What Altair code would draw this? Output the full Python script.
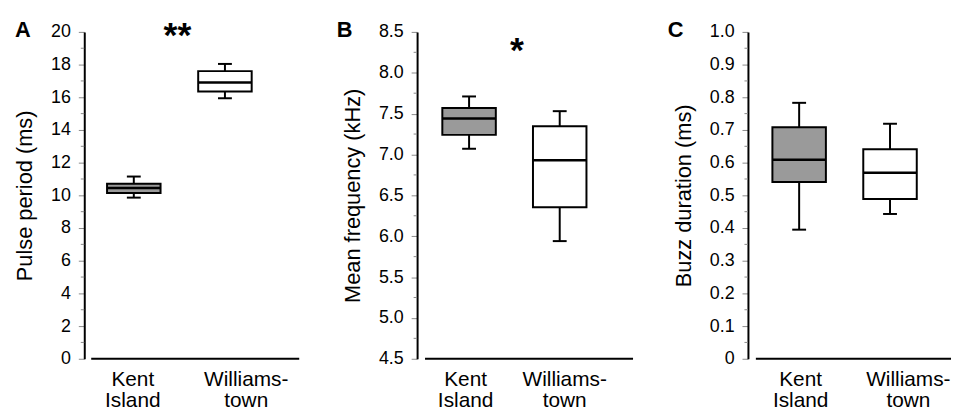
import altair as alt
import pandas as pd

sites = ["Kent Island", "Williamstown"]
fills = ["#9a9a9a", "#ffffff"]

# Panel A: pulse period (ms)
pulse_lo = [9.86, 15.94]
pulse_q1 = [10.15, 16.35]
pulse_med = [10.45, 16.90]
pulse_q3 = [10.71, 17.60]
pulse_hi = [11.15, 18.04]
pulse_major = [0, 2, 4, 6, 8, 10, 12, 14, 16, 18, 20]
pulse_minor = [1, 3, 5, 7, 9, 11, 13, 15, 17, 19]

# Panel B: mean frequency (kHz)
freq_lo = [7.07, 5.94]
freq_q1 = [7.24, 6.355]
freq_med = [7.44, 6.93]
freq_q3 = [7.57, 7.345]
freq_hi = [7.71, 7.53]
freq_major = [4.5, 5.0, 5.5, 6.0, 6.5, 7.0, 7.5, 8.0, 8.5]
freq_minor = [4.75, 5.25, 5.75, 6.25, 6.75, 7.25, 7.75, 8.25]

# Panel C: buzz duration (ms)
buzz_lo = [0.395, 0.443]
buzz_q1 = [0.541, 0.489]
buzz_med = [0.609, 0.569]
buzz_q3 = [0.708, 0.641]
buzz_hi = [0.783, 0.719]
buzz_major = [0, 0.1, 0.2, 0.3, 0.4, 0.5, 0.6, 0.7, 0.8, 0.9, 1.0]
buzz_minor = [0.05, 0.15, 0.25, 0.35, 0.45, 0.55, 0.65, 0.75, 0.85, 0.95]

FONT = "Liberation Sans"
H = 330
TICK = "#8a8a8a"


def panel(letter, stars, title, lo, q1, med, q3, hi, domain, major, minor, fmt,
          width, offset, pad, align, lab_off, xline, letter_x, star_x, star_y):
    df = pd.DataFrame({"site": sites, "lo": lo, "q1": q1, "med": med,
                       "q3": q3, "hi": hi})
    yaxis = alt.Axis(
        values=major,
        labelExpr=f"datum.value == 0 ? '0' : format(datum.value, '{fmt}')",
        labelOverlap=False,
        tickSize=6, tickColor=TICK, tickWidth=1,
        domainColor="black", domainWidth=2,
        labelFont=FONT, labelFontSize=18, labelColor="black", labelPadding=8,
        title=title, titleFont=FONT, titleFontSize=22, titleFontWeight="normal",
        titleColor="black", titlePadding=14, grid=False, offset=offset,
    )
    xaxis = alt.Axis(
        title=None, domain=False, ticks=False, tickSize=0, grid=False,
        labelAngle=0, labelFont=FONT, labelFontSize=21, labelColor="black",
        labelLineHeight=21.5, labelPadding=10,
        labelExpr="datum.label == 'Kent Island' ? ['Kent', 'Island'] : ['Williams-', 'town']",
        labelOffset={"condition": {"test": "datum.label == 'Kent Island'",
                                   "value": lab_off[0]}, "value": lab_off[1]},
    )
    x = alt.X("site:N", scale=alt.Scale(type="point", padding=pad, align=align,
                                        domain=sites), axis=xaxis)
    yscale = alt.Scale(domain=domain, nice=False, zero=False)
    base = alt.Chart(df)
    whisk = base.mark_rule(color="black", strokeWidth=2).encode(
        x=x, y=alt.Y("lo:Q", scale=yscale, axis=yaxis), y2="hi:Q")
    cap_hi = base.mark_tick(color="black", size=14, thickness=2, opacity=1).encode(
        x=x, y=alt.Y("hi:Q", scale=yscale, axis=yaxis))
    cap_lo = base.mark_tick(color="black", size=14, thickness=2, opacity=1).encode(
        x=x, y=alt.Y("lo:Q", scale=yscale, axis=yaxis))
    box = base.mark_bar(size=54, stroke="black", strokeWidth=2, opacity=1).encode(
        x=x, y=alt.Y("q1:Q", scale=yscale, axis=yaxis), y2="q3:Q",
        fill=alt.Fill("site:N", scale=alt.Scale(domain=sites, range=fills),
                      legend=None))
    medl = base.mark_tick(color="black", size=54, thickness=2.5, opacity=1).encode(
        x=x, y=alt.Y("med:Q", scale=yscale, axis=yaxis))
    mticks = alt.Chart(pd.DataFrame({"v": minor})).mark_rule(
        color=TICK, strokeWidth=1).encode(
        y=alt.Y("v:Q", scale=yscale, axis=yaxis),
        x=alt.value(-offset - 3.5), x2=alt.value(-offset))
    one = pd.DataFrame({"t": [letter], "s": [stars]})
    line = alt.Chart(one).mark_rule(color="black", strokeWidth=2).encode(
        x=alt.value(xline[0]), x2=alt.value(xline[1]), y=alt.value(H))
    let = alt.Chart(one).mark_text(
        font=FONT, fontSize=22, fontWeight="bold", align="left",
        baseline="alphabetic", color="black").encode(
        text="t:N", x=alt.value(letter_x), y=alt.value(5.5))
    layers = [whisk, box, medl, cap_hi, cap_lo, mticks, line, let]
    if stars:
        st = alt.Chart(one).mark_text(
            font=FONT, fontSize=36, fontWeight="bold", align="center",
            baseline="alphabetic", color="black").encode(
            text="s:N", x=alt.value(star_x), y=alt.value(star_y))
        layers.append(st)
    return alt.layer(*layers).properties(width=width, height=H)


pa = panel("A", "**", "Pulse period (ms)", pulse_lo, pulse_q1, pulse_med,
           pulse_q3, pulse_hi, [0, 20], pulse_major, pulse_minor, ".0f",
           205, 10, 0.614, 0.354, [-1.5, 21], [-3, 207], -80, 84, 15.5)
pb = panel("B", "*", "Mean frequency (kHz)", freq_lo, freq_q1, freq_med,
           freq_q3, freq_hi, [4.5, 8.5], freq_major, freq_minor, ".1f",
           209, 7, 0.642, 0.387, [-4, 4.5], [1, 211], -88, 93.7, 30)
pc = panel("C", "", "Buzz duration (ms)", buzz_lo, buzz_q1, buzz_med,
           buzz_q3, buzz_hi, [0, 1], buzz_major, buzz_minor, ".1f",
           191, 10, 0.541, 0.42, [1, 18], [-2, 195], -91, 0, 0)

chart = alt.hconcat(pa, pb, pc, spacing=128, bounds="flush").properties(
    padding={"left": 5, "top": 8.2, "right": 0, "bottom": 0},
    background="white",
).configure_view(stroke=None)

chart.save("out.html", embed_options={"renderer": "svg", "actions": False})
